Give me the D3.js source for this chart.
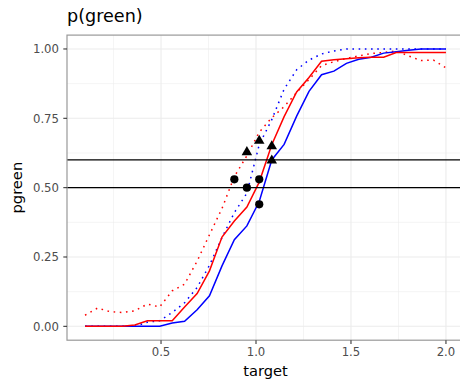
<!DOCTYPE html>
<html lang="en">
<head>
    <meta charset="UTF-8">
    <title>p(green)</title>
    <script src="https://d3js.org/d3.v7.min.js"></script>
    <style>
        body { margin: 0; background: #fff; }
        svg { display: block; font-family: "DejaVu Sans", sans-serif; }
        .grid-major { stroke: #ebebeb; stroke-width: 1.07; }
        .grid-minor { stroke: #ebebeb; stroke-width: 0.55; }
        .tick-label { fill: #4d4d4d; font-size: 11.7px; }
    </style>
</head>
<body>
<script>
    const width = 460;
    const height = 384;

    // data
    const target = [0.100, 0.166, 0.231, 0.297, 0.362, 0.428, 0.493, 0.559, 0.624, 0.690,
                    0.755, 0.821, 0.886, 0.952, 1.017, 1.083, 1.148, 1.214, 1.279, 1.345,
                    1.410, 1.476, 1.541, 1.607, 1.672, 1.738, 1.803, 1.869, 1.934, 2.000];
    const redSolid = [0, 0, 0, 0, 0.005, 0.02, 0.02, 0.02, 0.07, 0.118,
                      0.2, 0.322, 0.38, 0.43, 0.52, 0.655, 0.756, 0.845, 0.897, 0.956,
                      0.961, 0.965, 0.968, 0.97, 0.97, 0.987, 0.987, 0.987, 0.987, 0.987];
    const blueSolid = [0, 0, 0, 0, 0, 0, 0, 0.012, 0.018, 0.06,
                       0.11, 0.218, 0.312, 0.362, 0.45, 0.6, 0.656, 0.758, 0.847, 0.907,
                       0.92, 0.948, 0.963, 0.97, 0.985, 0.99, 0.995, 1, 1, 1];
    const redDotted = [0.04, 0.066, 0.053, 0.05, 0.056, 0.08, 0.07, 0.128, 0.152, 0.235,
                       0.33, 0.425, 0.54, 0.615, 0.70, 0.752, 0.792, 0.843, 0.89, 0.94,
                       0.954, 0.966, 0.975, 0.984, 0.987, 0.993, 0.975, 0.958, 0.96, 0.932];
    const blueDotted = [0, 0, 0, 0, 0, 0.015, 0.02, 0.05, 0.085, 0.14,
                        0.22, 0.32, 0.41, 0.48, 0.655, 0.745, 0.855, 0.925, 0.96, 0.982,
                        0.993, 1, 1, 1, 1, 1, 1, 1, 1, 1];

    const circleX = [0.886, 0.952, 1.017, 1.017];
    const circleY = [0.53, 0.50, 0.53, 0.44];
    const triX = [0.952, 1.017, 1.083, 1.083];
    const triY = [0.628, 0.669, 0.649, 0.598];
    const hlines = [0.5, 0.6];

    const xTicks = [0.5, 1.0, 1.5, 2.0];
    const xMinor = [0.25, 0.75, 1.25, 1.75];
    const yTicks = [0, 0.25, 0.5, 0.75, 1.0];
    const yMinor = [0.125, 0.375, 0.625, 0.875];

    const panel = {left: 67, top: 35.1, bottom: 340.2, right: 464};

    const svg = d3.select("body").append("svg")
            .attr("width", width).attr("height", height);

    const x = d3.scaleLinear().domain([0.005, 2.095]).range([panel.left, panel.right]);
    const y = d3.scaleLinear().domain([-0.05, 1.05]).range([panel.bottom, panel.top]);

    // grid
    svg.selectAll("line.gx-minor").data(xMinor).enter().append("line")
        .attr("class", "grid-minor")
        .attr("x1", d => x(d)).attr("x2", d => x(d))
        .attr("y1", panel.top).attr("y2", panel.bottom);
    svg.selectAll("line.gy-minor").data(yMinor).enter().append("line")
        .attr("class", "grid-minor")
        .attr("x1", panel.left).attr("x2", panel.right)
        .attr("y1", d => y(d)).attr("y2", d => y(d));
    svg.selectAll("line.gx").data(xTicks).enter().append("line")
        .attr("class", "grid-major")
        .attr("x1", d => x(d)).attr("x2", d => x(d))
        .attr("y1", panel.top).attr("y2", panel.bottom);
    svg.selectAll("line.gy").data(yTicks).enter().append("line")
        .attr("class", "grid-major")
        .attr("x1", panel.left).attr("x2", panel.right)
        .attr("y1", d => y(d)).attr("y2", d => y(d));

    // curves
    const line = d3.line().x((d, i) => x(target[i])).y(d => y(d));
    const curves = [
        {values: blueDotted, color: "#0000ff", dash: "1.6,4.6"},
        {values: redDotted, color: "#ff0000", dash: "1.6,4.6"},
        {values: blueSolid, color: "#0000ff", dash: null},
        {values: redSolid, color: "#ff0000", dash: null}
    ];
    curves.forEach(c => {
        svg.append("path")
            .datum(c.values)
            .attr("fill", "none")
            .attr("stroke", c.color)
            .attr("stroke-width", 1.5)
            .attr("stroke-dasharray", c.dash)
            .attr("d", line);
    });

    // reference lines
    svg.selectAll("line.hline").data(hlines).enter().append("line")
        .attr("x1", panel.left).attr("x2", panel.right)
        .attr("y1", d => y(d)).attr("y2", d => y(d))
        .attr("stroke", "#000").attr("stroke-width", 1.2);

    // points
    svg.selectAll("circle.pt").data(circleX).enter().append("circle")
        .attr("cx", d => x(d)).attr("cy", (d, i) => y(circleY[i]))
        .attr("r", 4.1).attr("fill", "#000");
    const tri = d3.symbol().type(d3.symbolTriangle).size(48);
    svg.selectAll("path.tri").data(triX).enter().append("path")
        .attr("transform", (d, i) => `translate(${x(d)},${y(triY[i])})`)
        .attr("d", tri).attr("fill", "#000");

    // panel border
    svg.append("rect")
        .attr("x", panel.left).attr("y", panel.top)
        .attr("width", panel.right - panel.left).attr("height", panel.bottom - panel.top)
        .attr("fill", "none").attr("stroke", "#999").attr("stroke-width", 1.2);

    // ticks and labels
    svg.selectAll("line.xt").data(xTicks).enter().append("line")
        .attr("x1", d => x(d)).attr("x2", d => x(d))
        .attr("y1", panel.bottom).attr("y2", panel.bottom + 3.7)
        .attr("stroke", "#333").attr("stroke-width", 1.07);
    svg.selectAll("text.xt").data(xTicks).enter().append("text")
        .attr("class", "tick-label")
        .attr("x", d => x(d)).attr("y", 356)
        .attr("text-anchor", "middle")
        .text(d => d.toFixed(1));
    svg.selectAll("line.yt").data(yTicks).enter().append("line")
        .attr("x1", panel.left - 3.7).attr("x2", panel.left)
        .attr("y1", d => y(d)).attr("y2", d => y(d))
        .attr("stroke", "#333").attr("stroke-width", 1.07);
    svg.selectAll("text.yt").data(yTicks).enter().append("text")
        .attr("class", "tick-label")
        .attr("x", 59).attr("y", d => y(d)).attr("dy", "0.36em")
        .attr("text-anchor", "end")
        .text(d => d.toFixed(2));

    // titles
    svg.append("text")
        .attr("x", 67).attr("y", 22)
        .attr("font-size", "17.6px").attr("fill", "#000")
        .text("p(green)");
    svg.append("text")
        .attr("x", (panel.left + panel.right) / 2).attr("y", 376)
        .attr("text-anchor", "middle")
        .attr("font-size", "14.67px").attr("fill", "#000")
        .text("target");
    svg.append("text")
        .attr("transform", `translate(22,${(panel.top + panel.bottom) / 2}) rotate(-90)`)
        .attr("text-anchor", "middle")
        .attr("font-size", "14.67px").attr("fill", "#000")
        .text("pgreen");
</script>
</body>
</html>
